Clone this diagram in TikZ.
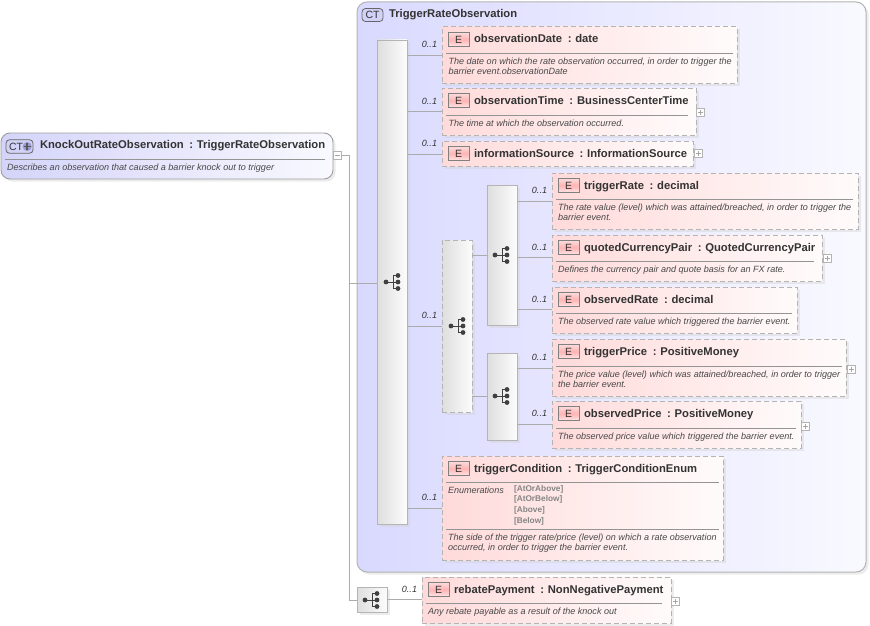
\documentclass[tikz,border=0pt]{standalone}
\usepackage{fontspec}
\setmainfont{Liberation Sans}
\usetikzlibrary{calc}
\definecolor{ink}{HTML}{333333}
\definecolor{edge}{HTML}{B4B4B4}
\definecolor{wire}{HTML}{ABABAB}
\definecolor{descink}{HTML}{484848}
\definecolor{pinkl}{HTML}{FFDADA}
\definecolor{pinkr}{HTML}{FFFBFB}
\definecolor{lavl}{HTML}{D9D9FF}
\definecolor{lavr}{HTML}{F9F9FF}
\definecolor{rootl}{HTML}{D4D4FA}
\definecolor{badgeb}{HTML}{D2D2F8}
\definecolor{plusb}{HTML}{9C9CD4}
\definecolor{ebt}{HTML}{FBDCDC}
\definecolor{ebm}{HTML}{FFB4B4}
\definecolor{ebb}{HTML}{FFE4E4}
\tikzset{
  x=1pt,y=-1pt,
  every node/.style={inner sep=0pt,outer sep=0pt,text=ink},
  elembox/.style={draw=edge,line width=1pt,dash pattern=on 5pt off 3pt,left color=pinkl,right color=pinkr},
  compbox/.style={draw=edge,line width=0.9pt,left color=black!13,right color=black!1},
  compdash/.style={compbox,dash pattern=on 5pt off 3pt},
  shade box/.style={fill=black!18,draw=none,opacity=.4},
  wirel/.style={draw=wire,line width=0.8pt},
  septl/.style={draw=black!42,line width=0.7pt},
  occ/.style={anchor=east,font=\fontsize{9}{10}\selectfont\itshape},
  ttl/.style={anchor=base west,font=\fontsize{11.25}{12}\selectfont\bfseries},
  dsc/.style={anchor=west,align=left,text=descink,font=\fontsize{9.05}{10}\selectfont\itshape},
  enm/.style={anchor=west,text=black!48,font=\fontsize{8.3}{10}\selectfont\bfseries},
  ebadge/.style={draw=black!50,line width=0.7pt,minimum width=21pt,minimum height=14pt,top color=ebt,bottom color=ebb,middle color=ebm,font=\fontsize{10.5}{12}\selectfont},
  ctbadge/.style={draw=black!60,line width=0.8pt,rounded corners=3.5pt,fill=badgeb,font=\fontsize{10.5}{12}\selectfont},
  toggle/.style={draw=edge,fill=white,line width=0.6pt,minimum width=8pt,minimum height=8pt},
}
\newcommand\placebox[6]{% id, x1,y1,x2,y2, style
  \pgfmathsetmacro\pw{#4-#2}\pgfmathsetmacro\ph{#5-#3}
  \pgfmathsetmacro\pcx{(#2+#4)/2}\pgfmathsetmacro\pcy{(#3+#5)/2}
  \fill[shade box] (#2+2.5,#3+2.5) rectangle (#4+2.5,#5+2.5);
  \node[#6,minimum width=\pw pt,minimum height=\ph pt] (#1) at (\pcx,\pcy) {};
}
\newcommand\elemnode[7]{% id x1 y1 x2 y2 name type
  \placebox{#1}{#2}{#3}{#4}{#5}{elembox}
  \node[ebadge] (#1e) at (#2+16.5,#3+12.5) {E};
  \node[ttl] (#1t) at (#2+32,#3+16) {#6\hspace{0.5em}:\hspace{0.34em}#7};
}
\newcommand\plusnode[3]{% id cx cy
  \node[toggle] (#1) at (#2,#3) {};
  \draw[draw=black!35,line width=0.6pt] (#2-2.5,#3) -- (#2+2.5,#3) (#2,#3-2.5) -- (#2,#3+2.5);
}
\newcommand\treeicon[2]{% cx cy at the fork
  \draw[draw=black!75,line width=1pt] (#1-7,#2) -- (#1+5,#2) (#1,#2-6.5) -- (#1,#2+6.5) (#1,#2-6.5) -- (#1+5,#2-6.5) (#1,#2+6.5) -- (#1+5,#2+6.5);
  \fill[black!75] (#1-7,#2) circle (2.4) (#1+5,#2) circle (2.4) (#1+5,#2-6.5) circle (2.4) (#1+5,#2+6.5) circle (2.4);
}
\begin{document}
\begin{tikzpicture}
\useasboundingbox (0,0) rectangle (870,626);
\fill[white] (0,0) rectangle (870,626);
\coordinate (fork1) at (349,283);
\coordinate (fork2) at (349,600);
% outer complex type
\fill[shade box,rounded corners=10pt] (359.5,4.5) rectangle (868.5,574.5);
\node[draw=edge,line width=1pt,rounded corners=10pt,left color=lavl,right color=lavr,minimum width=509pt,minimum height=570pt] (outer) at (611.5,287) {};
\node[ctbadge,minimum width=21pt,minimum height=13pt] (outerb) at (372.5,15) {CT};
\node[ttl] (outert) at (389,18) {TriggerRateObservation};
% root
\fill[shade box,rounded corners=9pt] (3.5,135.5) rectangle (335.5,181.5);
\node[draw=black!38,line width=0.9pt,rounded corners=9pt,left color=rootl,right color=lavr,minimum width=332pt,minimum height=46pt] (root) at (167,156) {};
\node[ctbadge,minimum width=27pt,minimum height=13.5pt,text width=27pt] (rootb) at (19.5,146.5) {\hspace{3pt}CT};
\fill[plusb] (27.2,146.5) circle (4.6);
\draw[draw=black!65,line width=1.6pt] (23.6,146.5) -- (30.8,146.5) (27.2,142.9) -- (27.2,150.1);
\node[ttl] (roott) at (40,148.5) {KnockOutRateObservation\hspace{0.5em}:\hspace{0.34em}TriggerRateObservation};
\draw[septl] (5,159) -- (325,159);
\node[dsc] (rootd) at (7,167.7) {Describes an observation that caused a barrier knock out to trigger};
\node[toggle] (rootp) at (337.5,155.5) {};
\draw[draw=black!35,line width=0.6pt] (335,155.5) -- (340,155.5);
% compositors
\placebox{m}{377}{40}{407}{524}{compbox}
\placebox{ch}{442}{240}{472}{412}{compdash}
\placebox{s1}{487}{185}{517}{325}{compbox}
\placebox{s2}{487}{353}{517}{440}{compbox}
\placebox{sb}{357}{587}{387}{612}{compbox}
% trunk
\draw[wirel] (rootp.east) -- (349,155.5) -- (fork2) -- (sb.west |- fork2);
\draw[wirel] (fork1) -- (m.west |- fork1);
% elements
\elemnode{e1}{442}{27}{737}{83}{observationDate}{date}
\elemnode{e2}{442}{88}{696}{135}{observationTime}{BusinessCenterTime}
\elemnode{e3}{442}{141}{693}{166}{informationSource}{InformationSource}
\elemnode{e4}{552}{173}{858}{229}{triggerRate}{decimal}
\elemnode{e5}{552}{235}{822}{281}{quotedCurrencyPair}{QuotedCurrencyPair}
\elemnode{e6}{552}{287}{797}{333}{observedRate}{decimal}
\elemnode{e7}{552}{339}{846}{396}{triggerPrice}{PositiveMoney}
\elemnode{e8}{552}{401}{801}{448}{observedPrice}{PositiveMoney}
\elemnode{e9}{442}{456}{723}{560}{triggerCondition}{TriggerConditionEnum}
\elemnode{e10}{422}{577}{671}{623}{rebatePayment}{NonNegativePayment}
% connectors
\draw[wirel] (m.east |- 0,55) -- (e1.west |- 0,55);
\draw[wirel] (m.east |- 0,111) -- (e2.west |- 0,111);
\draw[wirel] (m.east |- 0,154) -- (e3.west |- 0,154);
\draw[wirel] (m.east |- 0,326) -- (ch.west |- 0,326);
\draw[wirel] (m.east |- 0,508) -- (e9.west |- 0,508);
\draw[wirel] (ch.east |- 0,255) -- (s1.west |- 0,255);
\draw[wirel] (ch.east |- 0,396) -- (s2.west |- 0,396);
\draw[wirel] (s1.east |- 0,201) -- (e4.west |- 0,201);
\draw[wirel] (s1.east |- 0,257) -- (e5.west |- 0,257);
\draw[wirel] (s1.east |- 0,309) -- (e6.west |- 0,309);
\draw[wirel] (s2.east |- 0,368) -- (e7.west |- 0,368);
\draw[wirel] (s2.east |- 0,424) -- (e8.west |- 0,424);
\draw[wirel] (sb.east |- 0,599) -- (e10.west |- 0,599);
% icons
\treeicon{393}{282}
\treeicon{458}{326}
\treeicon{502}{255}
\treeicon{502}{396}
\treeicon{372}{600}
% toggles
\plusnode{p2}{700.5}{112.5}
\plusnode{p3}{698}{153.5}
\plusnode{p5}{827}{258}
\plusnode{p7}{851}{369}
\plusnode{p8}{805}{426}
\plusnode{p10}{675}{601}
% separators
\draw[septl] (446,53) -- (733,53);
\draw[septl] (446,115.5) -- (688,115.5);
\draw[septl] (556,199) -- (853,199);
\draw[septl] (556,261) -- (814,261);
\draw[septl] (556,313) -- (792,313);
\draw[septl] (556,366) -- (842,366);
\draw[septl] (556,428) -- (796,428);
\draw[septl] (446,482) -- (719,482);
\draw[septl] (446,529) -- (719,529);
\draw[septl] (426,603) -- (662,603);
% descriptions
\node[dsc] (d1) at (448.5,66) {The date on which the rate observation occurred, in order to trigger the\\barrier event.observationDate};
\node[dsc] (d2) at (448.5,123) {The time at which the observation occurred.};
\node[dsc] (d4) at (558,212.7) {The rate value (level) which was attained/breached, in order to trigger the\\barrier event.};
\node[dsc] (d5) at (558,269.7) {Defines the currency pair and quote basis for an FX rate.};
\node[dsc] (d6) at (558,321.7) {The observed rate value which triggered the barrier event.};
\node[dsc] (d7) at (558,379.7) {The price value (level) which was attained/breached, in order to trigger\\the barrier event.};
\node[dsc] (d8) at (558,436.7) {The observed price value which triggered the barrier event.};
\node[dsc] (d9) at (448,542.7) {The side of the trigger rate/price (level) on which a rate observation\\occurred, in order to trigger the barrier event.};
\node[dsc] (d10) at (428,611.7) {Any rebate payable as a result of the knock out};
% enumerations
\node[dsc] (en) at (448,490) {Enumerations};
\node[enm] (en1) at (514,489.5) {[AtOrAbove]};
\node[enm] (en2) at (514,499.5) {[AtOrBelow]};
\node[enm] (en3) at (514,510.5) {[Above]};
\node[enm] (en4) at (514,521.5) {[Below]};
% occurrences
\node[occ] (o1) at (437,44) {0..1};
\node[occ] (o2) at (437,101) {0..1};
\node[occ] (o3) at (437,143) {0..1};
\node[occ] (o4) at (437,315) {0..1};
\node[occ] (o5) at (437,497) {0..1};
\node[occ] (o6) at (547,190) {0..1};
\node[occ] (o7) at (547,247) {0..1};
\node[occ] (o8) at (547,299) {0..1};
\node[occ] (o9) at (547,357) {0..1};
\node[occ] (o10) at (547,413) {0..1};
\node[occ] (o11) at (417,589) {0..1};
\end{tikzpicture}
\end{document}
